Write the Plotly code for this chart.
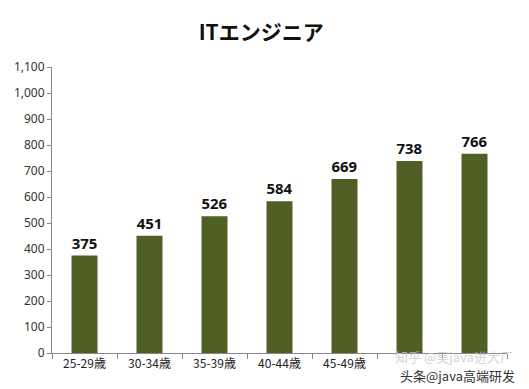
import plotly.graph_objects as go

categories = ["25-29歳", "30-34歳", "35-39歳", "40-44歳", "45-49歳", "50-54歳", "55-59歳"]
tick_labels = ["25-29歳", "30-34歳", "35-39歳", "40-44歳", "45-49歳", "", ""]
values = [375, 451, 526, 584, 669, 738, 766]
y_ticks = [0, 100, 200, 300, 400, 500, 600, 700, 800, 900, 1000, 1100]
title = "ITエンジニア"
watermark_top = "知乎 @吴java进大厂"
watermark_bottom = "头条@java高端研发"

bar_color = "#505F26"
font_fam = "Noto Sans CJK JP, Noto Sans, sans-serif"

fig = go.Figure(go.Bar(
    x=categories, y=values,
    marker=dict(color=bar_color, line=dict(width=0)),
    text=[str(v) for v in values],
    textposition="outside",
    textfont=dict(family="Noto Sans, DejaVu Sans, sans-serif", size=15, color="#111111", weight="bold"),
    cliponaxis=False,
))

# page has an 8px body margin, so the figure is sized 8px smaller
fig.update_layout(
    width=521, height=381,
    margin=dict(l=44, r=22, t=59, b=36, autoexpand=False),
    paper_bgcolor="white", plot_bgcolor="white",
    bargap=0.6,
    showlegend=False,
    title=dict(text=f"<b>{title}</b>", x=0.486, xanchor="center", y=0.934, yanchor="middle",
               font=dict(family=font_fam, size=21, color="#111111")),
    font=dict(family=font_fam),
)
fig.update_xaxes(
    type="category", automargin=False,
    tickmode="array", tickvals=categories, ticktext=tick_labels,
    tickson="boundaries",
    ticks="outside", ticklen=5, tickcolor="#888888",
    showline=True, linecolor="#888888", linewidth=1,
    showgrid=False,
    tickfont=dict(family="Noto Sans CJK JP, sans-serif", size=12, color="#222222"),
)
fig.update_yaxes(
    range=[0, 1100], automargin=False,
    tickmode="array", tickvals=y_ticks,
    tickformat=",d",
    ticks="outside", ticklen=4, tickcolor="#888888",
    showline=True, linecolor="#888888", linewidth=1,
    showgrid=False, zeroline=False,
    tickfont=dict(family="Noto Sans, DejaVu Sans, sans-serif", size=12, color="#333333"),
)

fig.add_annotation(text=watermark_top, xref="paper", yref="paper", x=1.017, y=-0.012,
                   xanchor="right", yanchor="middle", showarrow=False,
                   font=dict(family=font_fam, size=13, color="rgba(200,200,200,0.8)"))
fig.add_annotation(text=watermark_bottom, xref="paper", yref="paper", x=1.022, y=-0.078,
                   xanchor="right", yanchor="middle", showarrow=False,
                   font=dict(family=font_fam, size=13, color="#333333"))

fig.write_html("out.html")
